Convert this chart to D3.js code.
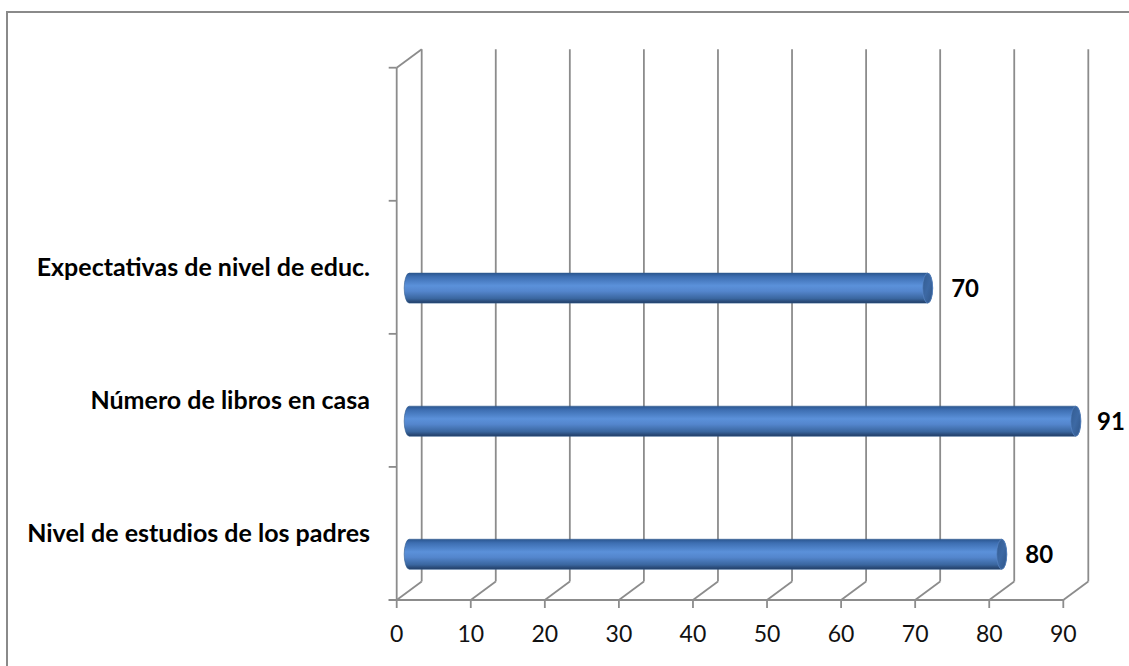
<!DOCTYPE html>
<html><head><meta charset="utf-8">
<script src="https://cdn.jsdelivr.net/npm/d3@7/dist/d3.min.js"></script>
<style>html,body{margin:0;padding:0;background:#fff;overflow:hidden}</style>
</head><body>
<svg id="chart" width="1129" height="666"></svg>
<script>
const categories = ["Nivel de estudios de los padres", "Número de libros en casa", "Expectativas de nivel de educ."];
const values = [80, 91, 70];
const xTicks = [0, 10, 20, 30, 40, 50, 60, 70, 80, 90];
const slotCount = 4; // category slots on the vertical axis (top one empty)

const svg = d3.select("#chart");

// chart area border
svg.append("rect").attr("x", 7).attr("y", 12).attr("width", 1140).attr("height", 680)
  .attr("fill", "#fff").attr("stroke", "#8a8a8a").attr("stroke-width", 2);

const x = d3.scaleLinear().domain([0, 90]).range([396.7, 1063.3]);
const xBar = x.copy().clamp(true); // bars are clipped at the axis maximum
const y = d3.scaleBand().domain(d3.range(slotCount)).range([600, 67.7]);
const dx = 25, dy = -18.5;
const yFront = 600, yTop = 67.7;
const grid = "#8c8c8c";

const defs = svg.append("defs");
const g1 = defs.append("linearGradient").attr("id", "cyl").attr("x1", 0).attr("y1", 0).attr("x2", 0).attr("y2", 1);
[[0, "#2b5690"], [0.12, "#3d6eb1"], [0.42, "#5b91da"], [0.6, "#5486cd"], [0.85, "#3a669f"], [1, "#213c63"]]
  .forEach(([o, c]) => g1.append("stop").attr("offset", o).attr("stop-color", c));
const g2 = defs.append("linearGradient").attr("id", "cap").attr("x1", 0).attr("y1", 0).attr("x2", 1).attr("y2", 1);
[[0, "#325b91"], [0.5, "#3d69a4"], [1, "#2f5588"]]
  .forEach(([o, c]) => g2.append("stop").attr("offset", o).attr("stop-color", c));

const lines = svg.append("g").attr("stroke", grid).attr("stroke-width", 1.8).attr("fill", "none");

xTicks.forEach(t => {
  const xf = x(t);
  lines.append("line").attr("x1", xf + dx).attr("x2", xf + dx).attr("y1", yFront + dy).attr("y2", yTop + dy);
  lines.append("line").attr("x1", xf).attr("y1", yFront).attr("x2", xf + dx).attr("y2", yFront + dy);
  lines.append("line").attr("x1", xf).attr("x2", xf).attr("y1", yFront).attr("y2", yFront + 8);
});
lines.append("line").attr("x1", x(0) - 8).attr("x2", x(90)).attr("y1", yFront).attr("y2", yFront);
lines.append("line").attr("x1", x(0)).attr("x2", x(0)).attr("y1", yFront).attr("y2", yTop);
lines.append("line").attr("x1", x(0)).attr("y1", yTop).attr("x2", x(0) + dx).attr("y2", yTop + dy);
const catTicks = d3.range(slotCount).map(i => y(i)).concat([yFront]);
catTicks.forEach(v => {
  lines.append("line").attr("x1", x(0) - 8).attr("x2", x(0)).attr("y1", v).attr("y2", v);
});

// x tick labels
svg.append("g").selectAll("text").data(xTicks).join("text")
  .attr("x", d => x(d)).attr("y", 642)
  .attr("text-anchor", "middle")
  .attr("font-family", "Lato, 'Open Sans', sans-serif").attr("font-size", 23)
  .attr("fill", "#111").text(d => d);

// category labels
svg.append("g").selectAll("text").data(categories).join("text")
  .attr("x", 370).attr("y", (d, i) => y(i) + y.bandwidth() / 2 + 9)
  .attr("text-anchor", "end")
  .attr("font-family", "Lato, 'Open Sans', sans-serif").attr("font-weight", "bold").attr("font-size", 25)
  .attr("fill", "#000").text(d => d);

// cylinders
const rx = 5, ry = 15, barOffset = 20.8;
const bars = svg.append("g");
values.forEach((v, i) => {
  const cy = y(i) + y.bandwidth() / 2 + barOffset;
  const x0 = xBar(0) + dx / 2, x1 = xBar(v) + dx / 2;
  const top = cy - ry, bot = cy + ry;
  bars.append("path")
    .attr("d", `M${x0},${top} L${x1},${top} A${rx},${ry} 0 0 1 ${x1},${bot} L${x0},${bot} A${rx},${ry} 0 0 1 ${x0},${top} Z`)
    .attr("fill", "url(#cyl)").attr("stroke", "#2f5a8f").attr("stroke-width", 0.6);
  bars.append("ellipse").attr("cx", x1).attr("cy", cy).attr("rx", rx).attr("ry", ry)
    .attr("fill", "url(#cap)").attr("stroke", "#5a88c8").attr("stroke-width", 0.6);
});

// value labels
svg.append("g").selectAll("text").data(values).join("text")
  .attr("x", d => Math.min(x(d) + 36, 1097))
  .attr("y", (d, i) => y(i) + y.bandwidth() / 2 + barOffset + 9)
  .attr("font-family", "Lato, 'Open Sans', sans-serif").attr("font-weight", "bold").attr("font-size", 24)
  .attr("fill", "#000").text(d => d);
</script>
</body></html>
